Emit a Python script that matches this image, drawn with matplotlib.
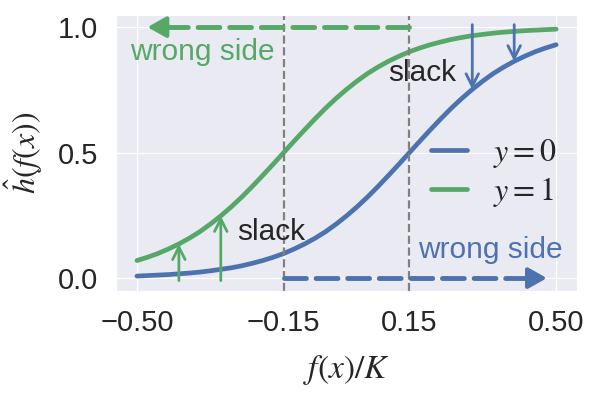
import matplotlib
matplotlib.use("Agg")
import matplotlib.pyplot as plt
import seaborn as sns

# curve samples (x = f(x)/K)
x_vals = [-0.500, -0.475, -0.450, -0.425, -0.400, -0.375, -0.350, -0.325, -0.300, -0.275,
          -0.250, -0.225, -0.200, -0.175, -0.150, -0.125, -0.100, -0.075, -0.050, -0.025,
          0.000, 0.025, 0.050, 0.075, 0.100, 0.125, 0.150, 0.175, 0.200, 0.225,
          0.250, 0.275, 0.300, 0.325, 0.350, 0.375, 0.400, 0.425, 0.450, 0.475, 0.500]
h_y0 = [0.008, 0.010, 0.012, 0.014, 0.017, 0.020, 0.024, 0.029, 0.035, 0.041,
        0.049, 0.059, 0.070, 0.083, 0.098, 0.116, 0.136, 0.159, 0.185, 0.215,
        0.248, 0.284, 0.323, 0.365, 0.409, 0.454, 0.500, 0.546, 0.591, 0.635,
        0.677, 0.716, 0.752, 0.785, 0.815, 0.841, 0.864, 0.884, 0.902, 0.917, 0.930]
h_y1 = [0.070, 0.083, 0.098, 0.116, 0.136, 0.159, 0.185, 0.215, 0.248, 0.284,
        0.323, 0.365, 0.409, 0.454, 0.500, 0.546, 0.591, 0.635, 0.677, 0.716,
        0.752, 0.785, 0.815, 0.841, 0.864, 0.884, 0.902, 0.917, 0.930, 0.941,
        0.951, 0.959, 0.966, 0.971, 0.976, 0.980, 0.983, 0.986, 0.988, 0.990, 0.992]

margin = 0.15
xticks = [-0.50, -0.15, 0.15, 0.50]
yticks = [0.0, 0.5, 1.0]
slack_x_y1 = [-0.400, -0.300]   # arrows up to the y=1 curve
slack_x_y0 = [0.300, 0.400]     # arrows down to the y=0 curve

blue = "#4C72B0"
green = "#55A868"

sns.set_style("darkgrid")
plt.rcParams["font.family"] = ["Liberation Sans", "DejaVu Sans"]
plt.rcParams["mathtext.fontset"] = "stix"

fig, ax = plt.subplots(figsize=(5.98, 4.17), dpi=100)
fig.subplots_adjust(left=0.194, right=0.965, top=0.965, bottom=0.303)

ax.plot(x_vals, h_y0, color=blue, lw=3.4, label="$y=0$", solid_capstyle="round")
ax.plot(x_vals, h_y1, color=green, lw=3.4, label="$y=1$", solid_capstyle="round")

ax.axvline(-margin, color="gray", ls="--", lw=1.6)
ax.axvline(margin, color="gray", ls="--", lw=1.6)

# "wrong side" dashed arrows
def dashed_arrow(x0, x1, y, color):
    step = 0.025 if x1 > x0 else -0.025
    ax.plot([x0, x1 - step], [y, y], color=color, lw=3.5, dashes=(4.5, 2.0),
            dash_capstyle="round")
    ax.annotate("", xy=(x1, y), xytext=(x1 - 1.6 * step, y),
                arrowprops=dict(arrowstyle="-|>,head_length=0.8,head_width=0.45",
                                color=color, lw=3.0, mutation_scale=14,
                                shrinkA=0, shrinkB=0))

dashed_arrow(margin, -0.475, 1.0, green)
dashed_arrow(-margin, 0.478, 0.0, blue)

# slack arrows
for xs in slack_x_y1:
    top = h_y1[x_vals.index(xs)]
    ax.annotate("", xy=(xs, top), xytext=(xs, -0.01),
                arrowprops=dict(arrowstyle="->,head_length=0.6,head_width=0.3",
                                color=green, lw=2.0, mutation_scale=15,
                                shrinkA=0, shrinkB=0))
for xs in slack_x_y0:
    bot = h_y0[x_vals.index(xs)]
    ax.annotate("", xy=(xs, bot), xytext=(xs, 1.01),
                arrowprops=dict(arrowstyle="->,head_length=0.6,head_width=0.3",
                                color=blue, lw=2.0, mutation_scale=15,
                                shrinkA=0, shrinkB=0))

ax.text(-0.517, 0.90, "wrong side", color=green, fontsize=21.5, ha="left", va="center")
ax.text(0.171, 0.11, "wrong side", color=blue, fontsize=21.5, ha="left", va="center")
ax.text(0.10, 0.817, "slack", color="#262626", fontsize=21.5, ha="left", va="center")
ax.text(-0.261, 0.183, "slack", color="#262626", fontsize=21.5, ha="left", va="center")

ax.set_xlim(-0.55, 0.55)
ax.set_ylim(-0.05, 1.05)
ax.set_xticks(xticks)
ax.set_xticklabels([("%.2f" % t).replace("-", "\u2212") for t in xticks])
ax.set_yticks(yticks)
ax.set_yticklabels(["%.1f" % t for t in yticks])
ax.tick_params(axis="both", labelsize=21, length=0, colors="#262626")
ax.tick_params(axis="x", pad=13)
ax.tick_params(axis="y", pad=13)

ax.set_xlabel("$f(x)/K$", fontsize=24, labelpad=12)
ax.set_ylabel(r"$\hat{h}(f(x))$", fontsize=23, labelpad=9)

ax.legend(loc="center left", bbox_to_anchor=(0.62, 0.425), frameon=False,
          fontsize=23, handlelength=1.15, handletextpad=0.8, labelspacing=0.15)

plt.savefig("out.png", dpi=100)
